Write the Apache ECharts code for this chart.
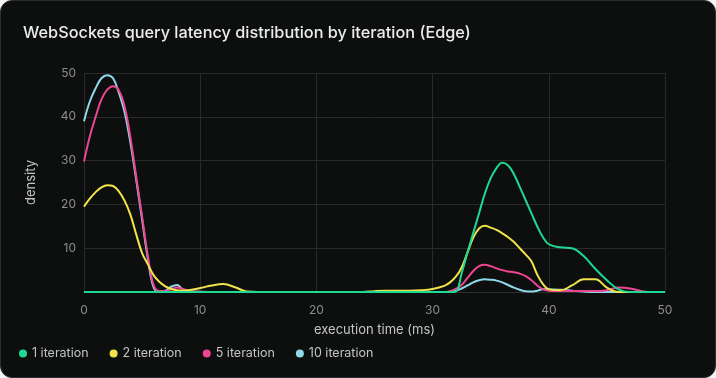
<!DOCTYPE html>
<html>
<head>
<meta charset="utf-8">
<script src="https://cdn.jsdelivr.net/npm/echarts@6/dist/echarts.min.js"></script>
<style>
html,body{margin:0;padding:0;background:#f4f4f4;}
#card{position:absolute;left:0;top:0;width:714px;height:376px;background:#0d0f0f;border:1px solid #2c2e30;border-radius:12px;overflow:hidden;}
#chart{width:716px;height:378px;position:absolute;left:-1px;top:-1px;}
</style>
</head>
<body>
<div id="card"><div id="chart"></div></div>
<script>
const xs = [0,0.5,1,1.5,2,2.5,3,3.5,4,4.5,5,5.5,6,6.5,7,7.5,8,8.5,9,
  10,11,12,13,14,15,16,17,18,19,20,21,22,23,24,25,26,27,28,29,30,
  31,31.5,32,32.5,33,33.5,34,34.5,35,35.5,36,36.5,37,37.5,38,38.5,39,39.5,40,
  41,42,43,44,45,46,47,48,49,50];
const seriesNames = ['1 iteration','2 iteration','5 iteration','10 iteration'];
const iter1 = [0,0,0,0,0,0,0,0,0,0,0,0,0,0,0,0,0,0,0,
  0,0,0,0,0,0,0,0,0,0,0,0,0,0,0,0,0,0,0,0,0,
  0,0,0.1,4.3,9,13.5,18,22.5,26,28.3,29.5,28.9,26.9,24,21,18,15,12.5,10.9,
  10.2,10,8.2,5.3,2.7,0.6,0,0,0,0];
const iter2 = [19.5,21.3,22.8,23.9,24.4,24.2,23,20.8,17.6,13.1,8.9,6.3,3.8,2.3,1.3,0.7,0.4,0.3,0.4,
  0.9,1.5,1.8,1.1,0.1,0,0,0,0,0,0,0,0,0,0,0.2,0.3,0.3,0.3,0.4,0.7,
  1.4,2.2,3.5,5.6,9,12.4,14.5,15.1,14.7,14.2,13.4,12.5,11.4,10,8.6,7,4,1.8,0.6,
  0.4,1.5,2.9,2.9,1,0,0,0,0,0];
const iter5 = [29.8,35.5,40,44,46.2,47,46,42.3,35.2,26.2,17.2,8.2,1.5,0.2,0.2,0.6,1,0.7,0.3,
  0.1,0,0,0,0,0,0,0,0,0,0,0,0,0,0,0,0,0,0,0,0,
  0,0.2,0.7,1.6,3.2,4.8,5.9,6.2,5.9,5.4,5,4.7,4.5,4.2,3.6,2.7,1.5,0.6,0.3,
  0.2,0.2,0.2,0.2,0.4,1,0.8,0.2,0,0];
const iter10 = [39,43.5,46.5,48.8,49.5,48.8,45.5,41,34,25.5,16.5,7.5,1,0,0.3,1.2,1.6,0.6,0.1,
  0,0,0,0,0,0,0,0,0,0,0,0,0,0,0,0,0,0,0,0,0,
  0,0.1,0.3,0.8,1.5,2.2,2.7,2.9,2.8,2.6,2.2,1.6,1,0.5,0.15,0.1,0.3,0.6,0.6,
  0.5,0.3,0.1,0,0,0,0,0,0,0];
const colors = ['#1ed991','#f2e34b','#ee4592','#8ed9e8'];
const xTicks = [0,10,20,30,40,50];
const yTicks = [10,20,30,40,50];

const all = [iter1, iter2, iter5, iter10];
const chart = echarts.init(document.getElementById('chart'), null, {renderer:'canvas'});
const font = 'Inter, "Noto Sans", sans-serif';
chart.setOption({
  backgroundColor: 'transparent',
  animation: false,
  title: {
    text: 'WebSockets query latency distribution by iteration (Edge)',
    left: 18, top: 20,
    textStyle: {color:'#ececec', fontSize:16.3, fontWeight:500, fontFamily:font}
  },
  legend: {
    left: 14, top: 342,
    icon: 'circle', itemWidth: 8, itemHeight: 8, itemGap: 21,
    textStyle: {color:'#c4c4c4', fontSize:12.5, fontFamily:font},
    data: seriesNames
  },
  grid: {left: 84, right: 51, top: 73, bottom: 86},
  xAxis: {
    type: 'value', min: xTicks[0], max: xTicks[xTicks.length-1], interval: 10,
    name: 'execution time (ms)', nameLocation: 'middle', nameGap: 32,
    nameTextStyle: {color:'#c4c4c4', fontSize:13, fontFamily:font},
    axisLine: {show:true, lineStyle:{color:'#2e2e2e'}},
    axisTick: {show:false},
    axisLabel: {color:'#8d8d8d', fontSize:12, fontFamily:font, margin:12},
    splitLine: {show:true, lineStyle:{color:'#2a2a2a'}}
  },
  yAxis: {
    type: 'value', min: 0, max: yTicks[yTicks.length-1], interval: 10,
    name: 'density', nameLocation: 'middle', nameGap: 46,
    nameTextStyle: {color:'#c4c4c4', fontSize:13, fontFamily:font},
    axisLine: {show:false},
    axisTick: {show:false},
    axisLabel: {color:'#8d8d8d', fontSize:12, fontFamily:font, margin:8, showMinLabel:false},
    splitLine: {show:true, lineStyle:{color:'#2a2a2a'}}
  },
  series: seriesNames.map((n,i)=>({
    name: n, type: 'line', smooth: 0.4, showSymbol: false, symbol: 'circle',
    data: xs.map((x,j)=>[x, all[i][j]]),
    lineStyle: {width: 2, color: colors[i]},
    itemStyle: {color: colors[i]},
    z: 10 - i
  })).reverse()
});
</script>
</body>
</html>
